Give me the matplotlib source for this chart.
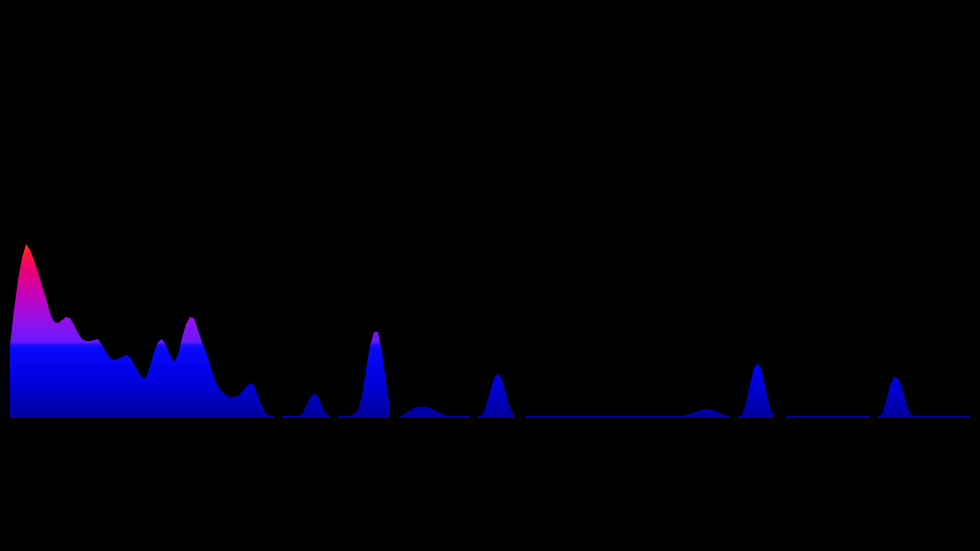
import numpy as np
import matplotlib
matplotlib.use("Agg")
import matplotlib.pyplot as plt
from matplotlib.colors import LinearSegmentedColormap
from matplotlib.path import Path

nan = float("nan")

# spectrum levels per bin (nan = no data -> gap)
levels = ([73, 108, 138, 160, 174, 168, 158, 146, 132, 120, 105, 96, 95, 98, 101, 100,
           93, 85, 79, 77, 77, 78, 79, 73, 66, 60, 58, 59, 61, 63, 61, 54, 47, 40, 40,
           52, 66, 76, 79, 73, 63, 56, 63, 80, 94, 101, 100, 88, 76, 66, 54, 40, 32, 26,
           23, 21, 21, 22, 26, 31, 35, 33, 22, 12, 4, 2, 2]
          + [nan]
          + [2, 2, 2, 2, 2, 4, 12, 20, 25, 22, 12, 4, 2]
          + [nan]
          + [2, 2, 2, 2, 4, 8, 22, 48, 72, 86, 86, 66, 36, 10]
          + [nan]
          + [1, 2, 5, 8, 10, 11, 11.5, 11, 10, 8, 6, 4.5, 3, 2, 2, 2, 2, 2, 2]
          + [nan]
          + [2, 3, 12, 26, 39, 45, 38, 24, 10, 3]
          + [nan, nan]
          + [2] * 39
          + [2, 3, 4, 5.5, 7, 8, 8.5, 8.5, 7.5, 6, 4, 2.5, 2]
          + [nan]
          + [2, 3, 15, 34, 50, 55, 47, 28, 10, 3]
          + [nan, nan]
          + [2] * 22
          + [nan]
          + [2, 4, 16, 32, 41, 40, 30, 15, 5, 2]
          + [2] * 14)

# gradient stops (level, colour)
grad_stops = [(0, "#00009c"), (35, "#0000dc"), (70, "#0a0aff"), (73, "#2010ff"),
              (76, "#6a18ff"), (100, "#9a10e8"), (125, "#c800b8"), (150, "#ee0070"),
              (165, "#ff1838"), (180, "#ff5010")]

y = np.array(levels, dtype=float)
x = np.arange(len(y))

fig = plt.figure(figsize=(9.8, 5.51), dpi=100, facecolor="black")
ax = fig.add_axes([10 / 980, (551 - 418) / 551, 960 / 980, 418 / 551])
ax.set_facecolor("black")
ax.set_xlim(0, len(y) - 1)
ax.set_ylim(0, 418)
ax.axis("off")

# area shape, used only as clip path for the gradient
poly = ax.fill_between(x, 0, y, where=~np.isnan(y), facecolor="none", edgecolor="none")
clip = Path.make_compound_path(*poly.get_paths())

top = grad_stops[-1][0]
cmap = LinearSegmentedColormap.from_list("spec", [(v / top, c) for v, c in grad_stops])
grad = np.linspace(0, 1, 400).reshape(-1, 1)
im = ax.imshow(grad, cmap=cmap, aspect="auto", origin="lower",
               extent=[0, len(y) - 1, 0, top], interpolation="bilinear")
im.set_clip_path(clip, transform=ax.transData)

fig.savefig("out.png", dpi=100, facecolor="black")
